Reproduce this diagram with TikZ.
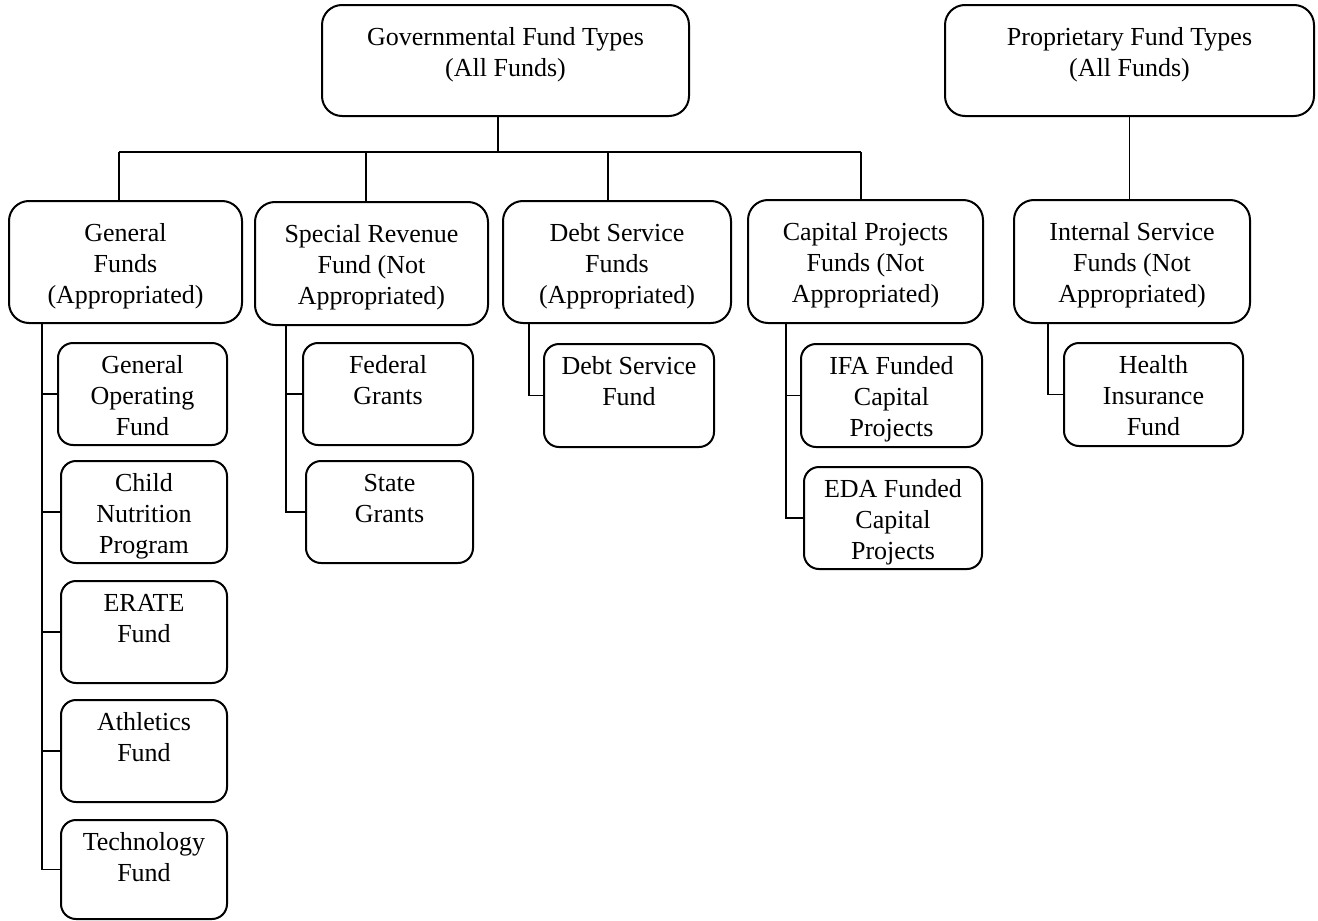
\documentclass[tikz,border=0pt]{standalone}
\usepackage{fontspec}
\setmainfont{Liberation Serif}
\usetikzlibrary{fit,calc}
\begin{document}
\begin{tikzpicture}[x=0.5pt,y=-0.5pt,
  bigbox/.style={draw, line width=1pt, rounded corners=10pt, inner sep=0pt},
  smallbox/.style={draw, line width=1pt, rounded corners=7.5pt, inner sep=0pt},
  txt/.style={anchor=north, align=center, inner sep=0pt, font=\fontsize{13}{15.5}\selectfont},
  conn/.style={line width=0.7pt}]
\fill[white] (0,0) rectangle (1318,921);
\useasboundingbox (0,0) rectangle (1318,921);

% top level
\node[bigbox, fit={(322,5) (689,116)}] (gov) {};
\node[txt] (govt) at ($(gov.north)+(0,19)$) {\strut Governmental Fund Types\\(All Funds)};
\node[bigbox, fit={(945,5) (1314,116)}] (prop) {};
\node[txt] (propt) at ($(prop.north)+(0,19)$) {\strut Proprietary Fund Types\\(All Funds)};

% second level
\node[bigbox, fit={(9,201) (242,323)}] (gen) {};
\node[txt] (gent) at ($(gen.north)+(0,19)$) {\strut General\\Funds\\(Appropriated)};
\node[bigbox, fit={(255,202) (488,325)}] (spec) {};
\node[txt] (spect) at ($(spec.north)+(0,19)$) {\strut Special Revenue\\Fund (Not\\Appropriated)};
\node[bigbox, fit={(503,201) (731,323)}] (debt) {};
\node[txt] (debtt) at ($(debt.north)+(0,19)$) {\strut Debt Service\\Funds\\(Appropriated)};
\node[bigbox, fit={(748,200) (983,323)}] (cap) {};
\node[txt] (capt) at ($(cap.north)+(0,19)$) {\strut Capital Projects\\Funds (Not\\Appropriated)};
\node[bigbox, fit={(1014,200) (1250,323)}] (isf) {};
\node[txt] (isft) at ($(isf.north)+(0,19)$) {\strut Internal Service\\Funds (Not\\Appropriated)};

% third level
\node[smallbox, fit={(58,343) (227,445)}] (go) {};
\node[txt] (got) at ($(go.north)+(0,9)$) {\strut General\\Operating\\Fund};
\node[smallbox, fit={(61,461) (227,563)}] (cn) {};
\node[txt] (cnt) at ($(cn.north)+(0,9)$) {\strut Child\\Nutrition\\Program};
\node[smallbox, fit={(61,581) (227,683)}] (er) {};
\node[txt] (ert) at ($(er.north)+(0,9)$) {\strut ERATE\\Fund};
\node[smallbox, fit={(61,700) (227,802)}] (at) {};
\node[txt] (att) at ($(at.north)+(0,9)$) {\strut Athletics\\Fund};
\node[smallbox, fit={(61,820) (227,919)}] (te) {};
\node[txt] (tet) at ($(te.north)+(0,9)$) {\strut Technology\\Fund};

\node[smallbox, fit={(303,343) (473,445)}] (fed) {};
\node[txt] (fedt) at ($(fed.north)+(0,9)$) {\strut Federal\\Grants};
\node[smallbox, fit={(306,461) (473,563)}] (sta) {};
\node[txt] (stat) at ($(sta.north)+(0,9)$) {\strut State\\Grants};

\node[smallbox, fit={(544,344) (714,447)}] (dsf) {};
\node[txt] (dsft) at ($(dsf.north)+(0,9)$) {\strut Debt Service\\Fund};

\node[smallbox, fit={(801,344) (982,447)}] (ifa) {};
\node[txt] (ifat) at ($(ifa.north)+(0,9)$) {\strut IFA Funded\\Capital\\Projects};
\node[smallbox, fit={(804,467) (982,569)}] (eda) {};
\node[txt] (edat) at ($(eda.north)+(0,9)$) {\strut EDA Funded\\Capital\\Projects};

\node[smallbox, fit={(1064,343) (1243,446)}] (hif) {};
\node[txt] (hift) at ($(hif.north)+(0,9)$) {\strut Health\\Insurance\\Fund};

% bus coordinates
\coordinate (busL) at (119,152);
\coordinate (busR) at (861,152);
\coordinate (govd) at (498,116);
\coordinate (spd) at (366,152);
\coordinate (dbd) at (608,152);

\draw[conn] (govd) -- (govd |- busL);
\draw[conn] (busL) -- (busR);
\draw[conn] (busL) -- (busL |- gen.north);
\draw[conn] (spd) -- (spd |- spec.north);
\draw[conn] (dbd) -- (dbd |- debt.north);
\draw[conn] (busR) -- (busR |- cap.north);
\draw[conn] (prop.south) -- (prop.south |- isf.north);

% trunks
\coordinate (gtr) at (42,323);
\coordinate (str) at (286,325);
\coordinate (dtr) at (529,323);
\coordinate (ctr) at (786,323);
\coordinate (itr) at (1048,323);

\draw[conn] (gtr) |- (go.west);
\draw[conn] (gtr) |- (cn.west);
\draw[conn] (gtr) |- (er.west);
\draw[conn] (gtr) |- (at.west);
\draw[conn] (gtr) |- (te.west);
\draw[conn] (str) |- (fed.west);
\draw[conn] (str) |- (sta.west);
\draw[conn] (dtr) |- (dsf.west);
\draw[conn] (ctr) |- (ifa.west);
\draw[conn] (ctr) |- (eda.west);
\draw[conn] (itr) |- (hif.west);
\end{tikzpicture}
\end{document}
